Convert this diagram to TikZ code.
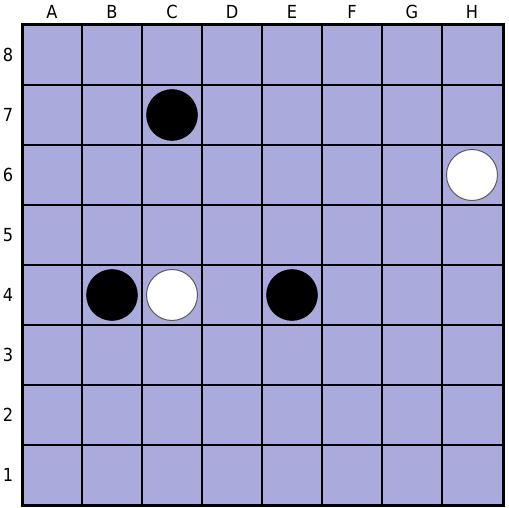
\documentclass[tikz,border=0pt]{standalone}
\usepackage{fontspec}
\setsansfont{DejaVu Sans Condensed}
\usepackage{xcolor}
\definecolor{boardfill}{RGB}{170,170,221}
\definecolor{stoneedge}{RGB}{90,90,90}
\tikzset{
  coordlbl/.style={font=\sffamily\fontsize{18}{18}\selectfont, inner sep=0pt},
  blackstone/.style={circle, fill=black, draw=black, line width=.5pt,
    minimum size=51pt, inner sep=0pt},
  whitestone/.style={circle, fill=white, draw=stoneedge, line width=1pt,
    minimum size=51pt, inner sep=0pt},
}

\begin{document}
\begin{tikzpicture}[x=1pt, y=-1pt]
    \useasboundingbox (0,0) rectangle (509,508);
    % board
    \fill[boardfill] (22,25) rectangle (503,505);
    \foreach \i in {1,...,7} {
      \draw[line width=2pt] (22+60*\i,25) -- (22+60*\i,505);
      \draw[line width=2pt] (22,25+60*\i) -- (503,25+60*\i);
    }
    \draw[line width=3pt] (22,25) rectangle (503,505);

    % labels
    \foreach \c [count=\i] in {A,B,C,D,E,F,G,H}
      \node[coordlbl] (col\c) at (-8+60*\i,12) {\c};
    \foreach \r in {1,...,8}
      \node[coordlbl] (row\r) at (8,535-60*\r) {\r};

    % stones
    \node[blackstone] (c7) at (172,115) {};
    \node[blackstone] (b4) at (112,295) {};
    \node[blackstone] (e4) at (292,295) {};
    \node[whitestone] (c4) at (172,295) {};
    \node[whitestone] (h6) at (472,175) {};
  \end{tikzpicture}
\end{document}
